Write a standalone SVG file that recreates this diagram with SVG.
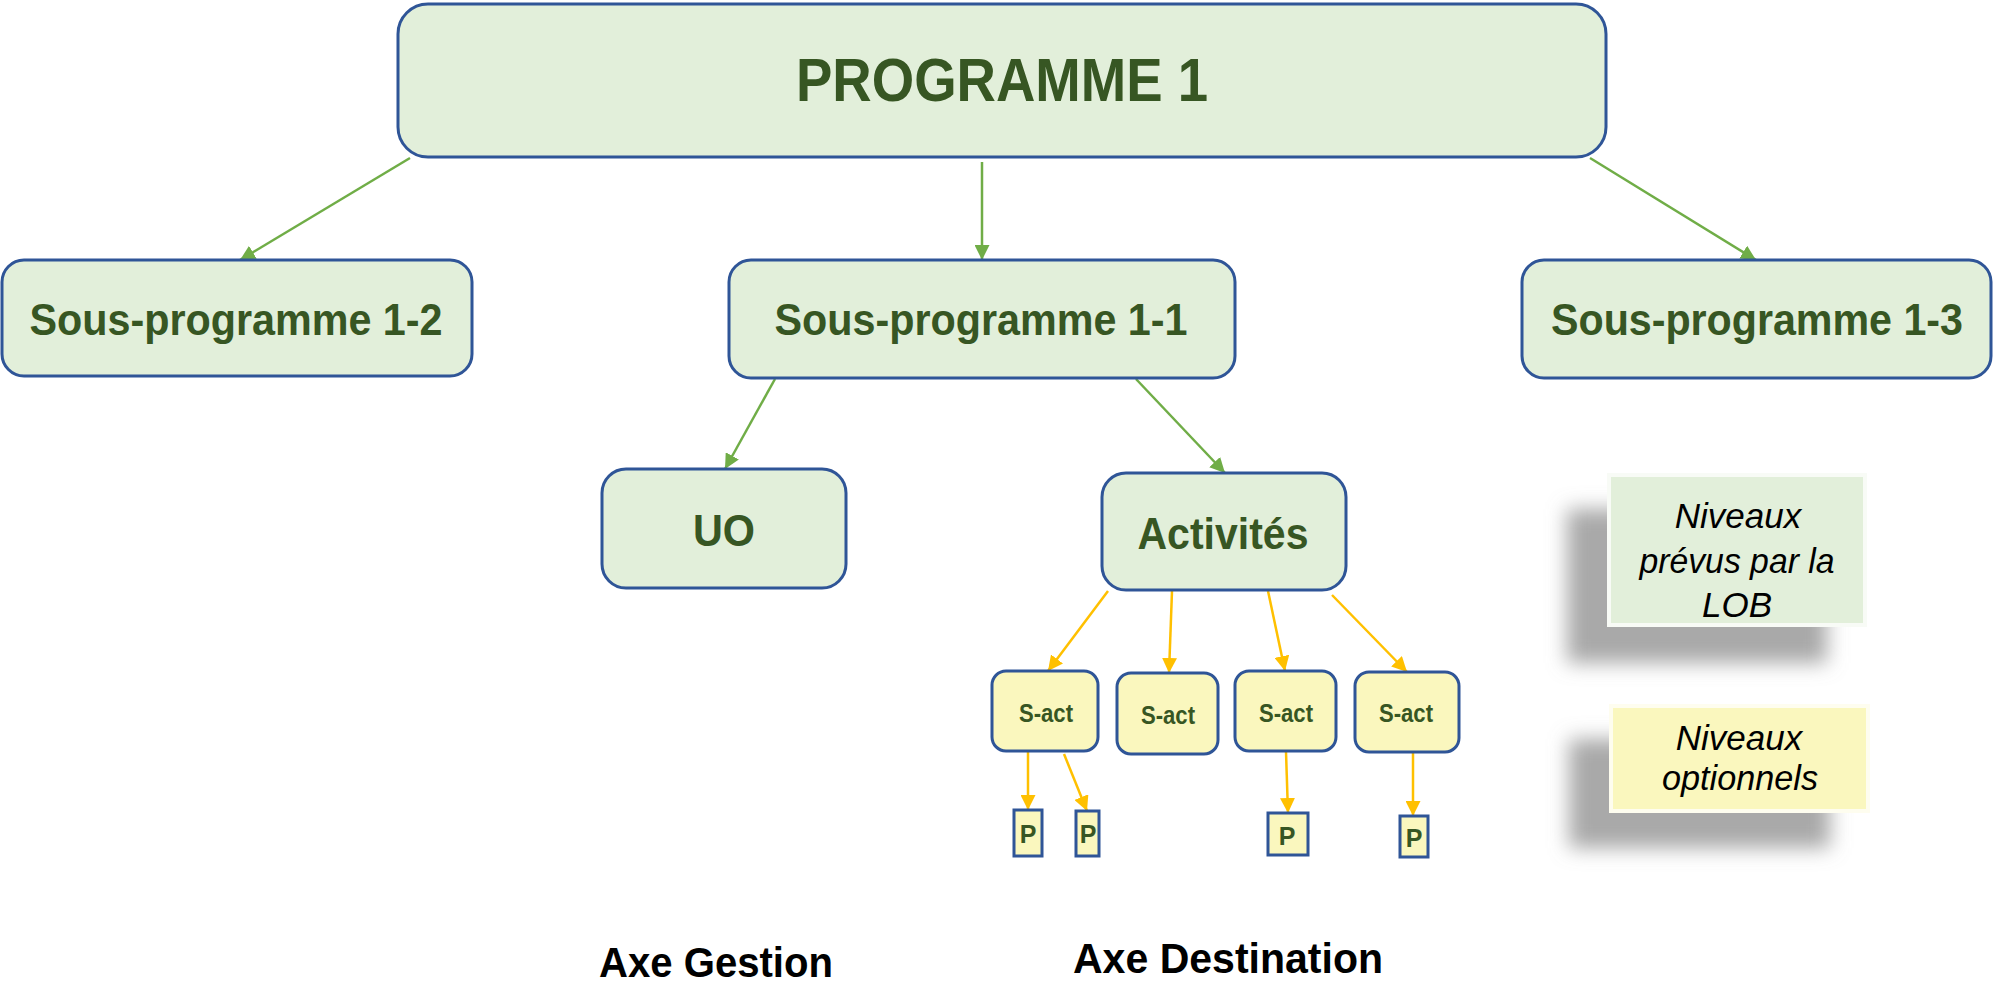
<svg xmlns="http://www.w3.org/2000/svg" width="1995" height="986" viewBox="0 0 1995 986">
  <defs>
    <marker id="ag" markerUnits="userSpaceOnUse" markerWidth="15" markerHeight="15" refX="15" refY="7.5" orient="auto">
      <path d="M0,0 L15,7.5 L0,15 z" fill="#70AD47"/>
    </marker>
    <marker id="ay" markerUnits="userSpaceOnUse" markerWidth="15" markerHeight="15" refX="15" refY="7.5" orient="auto">
      <path d="M0,0 L15,7.5 L0,15 z" fill="#FFC000"/>
    </marker>
    <filter id="sh" x="-30%" y="-30%" width="160%" height="160%">
      <feGaussianBlur stdDeviation="10"/>
    </filter>
    <style>
      .g { fill: #E2EFDA; stroke: #2F5597; stroke-width: 3; }
      .y { fill: #FAF7BE; stroke: #2F5597; stroke-width: 3; }
      .t { font-family: "Liberation Sans", Arial, sans-serif; font-weight: bold; fill: #375623; text-anchor: middle; }
      .cg { stroke: #70AD47; stroke-width: 2.5; fill: none; marker-end: url(#ag); }
      .cy { stroke: #FFC000; stroke-width: 2.5; fill: none; marker-end: url(#ay); }
      .li { font-family: "Liberation Sans", Arial, sans-serif; font-style: italic; font-size: 35px; fill: #000; text-anchor: middle; }
      .ax { font-family: "Liberation Sans", Arial, sans-serif; font-weight: bold; fill: #000; text-anchor: middle; }
      .bev { fill: none; stroke: #FFFFFF; stroke-opacity: 0.75; stroke-width: 4; }
    </style>
  </defs>
  <rect width="1995" height="986" fill="#FFFFFF"/>

  <g id="connectors">
    <line class="cg" x1="410" y1="158" x2="240" y2="260"/>
    <line class="cg" x1="982" y1="162" x2="982" y2="260"/>
    <line class="cg" x1="1590" y1="158" x2="1756" y2="260"/>
    <line class="cg" x1="775" y1="379" x2="725" y2="469"/>
    <line class="cg" x1="1136" y1="379" x2="1225" y2="473"/>
    <line class="cy" x1="1108" y1="591" x2="1048" y2="671"/>
    <line class="cy" x1="1172" y1="591" x2="1169" y2="673"/>
    <line class="cy" x1="1268" y1="591" x2="1285" y2="671"/>
    <line class="cy" x1="1332" y1="595" x2="1407" y2="672"/>
    <line class="cy" x1="1028" y1="752" x2="1028" y2="810"/>
    <line class="cy" x1="1064" y1="754" x2="1087" y2="811"/>
    <line class="cy" x1="1286" y1="752" x2="1288" y2="813"/>
    <line class="cy" x1="1413" y1="752" x2="1413" y2="816"/>
  </g>

  <g id="programme1">
    <rect class="g" x="398" y="4" width="1208" height="153" rx="30" ry="30"/>
    <text class="t" x="1002" y="101" font-size="62" textLength="412" lengthAdjust="spacingAndGlyphs">PROGRAMME 1</text>
  </g>

  <g id="sp12">
    <rect class="g" x="2" y="260" width="470" height="116" rx="22" ry="22"/>
    <text class="t" x="236" y="335" font-size="45" textLength="413" lengthAdjust="spacingAndGlyphs">Sous-programme 1-2</text>
  </g>

  <g id="sp11">
    <rect class="g" x="729" y="260" width="506" height="118" rx="22" ry="22"/>
    <text class="t" x="981" y="335" font-size="45" textLength="413" lengthAdjust="spacingAndGlyphs">Sous-programme 1-1</text>
  </g>

  <g id="sp13">
    <rect class="g" x="1522" y="260" width="469" height="118" rx="22" ry="22"/>
    <text class="t" x="1757" y="335" font-size="44" textLength="412" lengthAdjust="spacingAndGlyphs">Sous-programme 1-3</text>
  </g>

  <g id="uo">
    <rect class="g" x="602" y="469" width="244" height="119" rx="24" ry="24"/>
    <text class="t" x="724" y="546" font-size="45" textLength="62" lengthAdjust="spacingAndGlyphs">UO</text>
  </g>

  <g id="activites">
    <rect class="g" x="1102" y="473" width="244" height="117" rx="24" ry="24"/>
    <text class="t" x="1223" y="549" font-size="45" textLength="171" lengthAdjust="spacingAndGlyphs">Activités</text>
  </g>

  <g id="sact1">
    <rect class="y" x="992" y="671" width="106" height="80" rx="14" ry="14"/>
    <text class="t" x="1046" y="722" font-size="26" textLength="54" lengthAdjust="spacingAndGlyphs">S-act</text>
  </g>
  <g id="sact2">
    <rect class="y" x="1117" y="673" width="101" height="81" rx="14" ry="14"/>
    <text class="t" x="1168" y="724" font-size="26" textLength="54" lengthAdjust="spacingAndGlyphs">S-act</text>
  </g>
  <g id="sact3">
    <rect class="y" x="1235" y="671" width="101" height="80" rx="14" ry="14"/>
    <text class="t" x="1286" y="722" font-size="26" textLength="54" lengthAdjust="spacingAndGlyphs">S-act</text>
  </g>
  <g id="sact4">
    <rect class="y" x="1355" y="672" width="104" height="80" rx="14" ry="14"/>
    <text class="t" x="1406" y="722" font-size="26" textLength="54" lengthAdjust="spacingAndGlyphs">S-act</text>
  </g>

  <g id="p1">
    <rect class="y" x="1014" y="810" width="28" height="46"/>
    <text class="t" x="1028" y="843" font-size="25">P</text>
  </g>
  <g id="p2">
    <rect class="y" x="1076" y="811" width="23" height="45"/>
    <text class="t" x="1088" y="843" font-size="25">P</text>
  </g>
  <g id="p3">
    <rect class="y" x="1268" y="813" width="40" height="42"/>
    <text class="t" x="1287" y="845" font-size="25">P</text>
  </g>
  <g id="p4">
    <rect class="y" x="1400" y="816" width="28" height="41"/>
    <text class="t" x="1414" y="847" font-size="25">P</text>
  </g>

  <g id="legend-lob">
    <rect x="1567" y="509" width="260" height="154" fill="#8C8C8C" fill-opacity="0.75" filter="url(#sh)"/>
    <rect x="1607" y="473" width="260" height="154" fill="#E2EFDA"/>
    <rect class="bev" x="1609" y="475" width="256" height="150"/>
    <text class="li" x="1738" y="528">Niveaux</text>
    <text class="li" x="1737" y="573" textLength="195" lengthAdjust="spacingAndGlyphs">prévus par la</text>
    <text class="li" x="1737" y="617">LOB</text>
  </g>

  <g id="legend-opt">
    <rect x="1569" y="739" width="261" height="109" fill="#8C8C8C" fill-opacity="0.75" filter="url(#sh)"/>
    <rect x="1609" y="704" width="261" height="109" fill="#FAF7BE"/>
    <rect class="bev" x="1611" y="706" width="257" height="105"/>
    <text class="li" x="1739" y="750">Niveaux</text>
    <text class="li" x="1740" y="790" textLength="156" lengthAdjust="spacingAndGlyphs">optionnels</text>
  </g>

  <g id="axe-gestion">
    <text class="ax" x="716" y="977" font-size="43" textLength="234" lengthAdjust="spacingAndGlyphs">Axe Gestion</text>
  </g>
  <g id="axe-destination">
    <text class="ax" x="1228" y="973" font-size="43" textLength="310" lengthAdjust="spacingAndGlyphs">Axe Destination</text>
  </g>
</svg>
